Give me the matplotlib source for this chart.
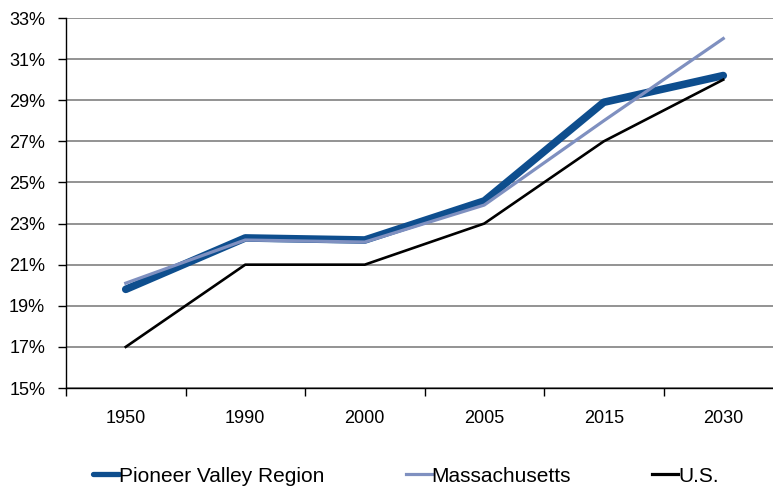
import matplotlib
matplotlib.use("Agg")
import matplotlib.pyplot as plt
from matplotlib.ticker import FuncFormatter
from matplotlib.lines import Line2D

plt.rcParams['font.family'] = ['Liberation Sans', 'DejaVu Sans']

years = ["1950", "1990", "2000", "2005", "2015", "2030"]
pioneer = [19.8, 22.3, 22.2, 24.1, 28.9, 30.2]
massachusetts = [20.1, 22.2, 22.1, 23.9, 28.0, 32.0]
us = [17.0, 21.0, 21.0, 23.0, 27.0, 30.0]
yticks = [15, 17, 19, 21, 23, 25, 27, 29, 31, 33]

fig = plt.figure(figsize=(7.73, 4.86), dpi=100)
ax = fig.add_axes([66/773, 1 - 388/486, (783 - 66)/773, (388 - 18)/486])

x = list(range(len(years)))
ax.plot(x, pioneer, color="#0e4e8e", lw=5.5, solid_capstyle="round", solid_joinstyle="round", zorder=3, label="Pioneer Valley Region")
ax.plot(x, massachusetts, color="#7f90c0", lw=2.3, zorder=4, label="Massachusetts")
ax.plot(x, us, color="black", lw=1.9, zorder=5, label="U.S.")

ax.set_xlim(-0.5, 5.5)
ax.set_ylim(15, 33)
ax.set_yticks(yticks)
ax.yaxis.set_major_formatter(FuncFormatter(lambda v, p: f"{int(round(v))}%"))
ax.set_xticks(x)
ax.set_xticklabels(years)
ax.set_xticks([i + 0.5 for i in range(-1, len(years))], minor=True)
ax.tick_params(axis='x', which='major', length=0, pad=15.5, labelsize=13)
ax.tick_params(axis='x', which='minor', length=6, width=1, direction='out', color='black')
ax.tick_params(axis='y', length=6, width=1, direction='out', pad=9, labelsize=13)

ax.grid(axis='y', color='#808080', lw=1.2, zorder=0)
for s in ['top', 'right']:
    ax.spines[s].set_visible(False)
ax.spines['left'].set_color('black')
ax.spines['bottom'].set_color('black')
ax.spines['left'].set_linewidth(1)
ax.spines['bottom'].set_linewidth(1)

h1 = Line2D([], [], color="#0e4e8e", lw=3.8, solid_capstyle="round")
h2 = Line2D([], [], color="#7f90c0", lw=2.3)
h3 = Line2D([], [], color="black", lw=2.3)
leg = fig.legend([h1, h2, h3], ["Pioneer Valley Region", "Massachusetts", "U.S."],
                 loc='center left', bbox_to_anchor=(93/773, 1 - 476/486), ncol=3,
                 frameon=False, fontsize=15, handlelength=1.25, handletextpad=0.0,
                 columnspacing=3.9, borderaxespad=0, borderpad=0)

fig.savefig("out.png", dpi=100)
